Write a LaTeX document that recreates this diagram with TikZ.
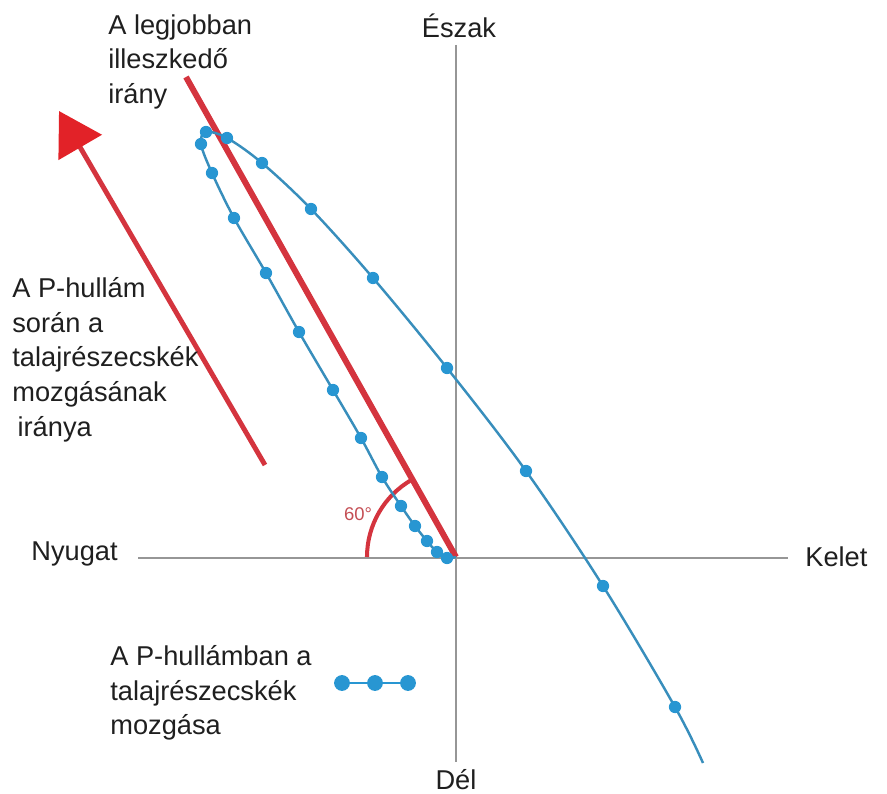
\documentclass[tikz,border=0pt]{standalone}
\usepackage{fontspec}
\setmainfont{Liberation Sans}
\usetikzlibrary{arrows.meta}
\definecolor{axisgray}{RGB}{150,150,150}
\definecolor{fitred}{RGB}{212,52,62}
\definecolor{headred}{RGB}{226,34,40}
\definecolor{pblue}{RGB}{56,142,188}
\definecolor{dotblue}{RGB}{40,150,210}
\definecolor{degred}{RGB}{196,78,84}

\begin{document}
\begin{tikzpicture}[x=0.02cm, y=-0.02cm,
  axis/.style={line width=1.2pt, axisgray},
  fitline/.style={line width=3.4pt, fitred},
  txt/.style={font=\fontsize{15.5}{19.8}\selectfont, text=black!88, inner sep=0pt, align=left},
  pdot/.style={circle, fill=dotblue, inner sep=0pt, minimum size=7pt},
  legdot/.style={circle, fill=dotblue, inner sep=0pt, minimum size=9pt}]
\useasboundingbox (0,0) rectangle (887,794);

% tengelyek
\coordinate (O) at (456,557);
\coordinate (north) at (456,45);
\coordinate (south) at (456,762);
\coordinate (west) at (138,558);
\coordinate (east) at (788,558);
\draw[axis] (north) -- (south);
\draw[axis] (west) -- (east);
\node[txt, anchor=base] (eszak) at (459,38) {Észak};
\node[txt, anchor=base] (del) at (456,789) {Dél};
\node[txt, anchor=east] (nyugat) at (118,554) {Nyugat};
\node[txt, anchor=west] (kelet) at (805,557) {Kelet};

% legjobban illeszkedő irány
\coordinate (fittop) at (186,77);
\draw[fitline] (O) -- (fittop);
\draw[line width=2.3pt, fitred] (O) ++(-89,0) arc[start angle=180, end angle=240, radius=89];
\node[font=\fontsize{10.5}{12}\selectfont, text=degred, inner sep=0pt] (deg) at (358,514) {60°};
\node[txt, anchor=north west] (fitlabel) at (108,14) {A legjobban\\illeszkedő\\irány};

% mozgás iránya
\coordinate (arrtail) at (265,465);
\coordinate (arrtip) at (59,111);
\draw[line width=2.8pt, fitred, -{Triangle[length=24pt, width=28pt, fill=headred, color=headred]}] (arrtail) -- (arrtip);
\node[txt, anchor=north west] (movelabel) at (12,277) {A P-hullám\\során a\\talajrészecskék\\mozgásának\\\hspace{3pt}iránya};

% részecskék pályája
\draw[line width=1.4pt, pblue] plot[smooth, tension=0.55] coordinates {(456,557) (447,558) (437,552) (427,541) (415,526) (401,506) (382,477) (361,438) (333,390) (299,332) (266,273) (234,218) (212,173) (201,144) (206,132) (227,138) (262,163) (311,209) (373,278) (447,368) (526,471) (603,586) (675,707) (703,763)};
\foreach \p in {(447,558),(437,552),(427,541),(415,526),(401,506),(382,477),(361,438),(333,390),(299,332),(266,273),(234,218),(212,173),(201,144),(206,132),(227,138),(262,163),(311,209),(373,278),(447,368),(526,471),(603,586),(675,707)}
  \node[pdot] at \p {};

% jelmagyarázat
\node[txt, anchor=north west] (legend) at (110,645) {A P-hullámban a\\talajrészecskék\\mozgása};
\node[legdot] (l1) at (342,683) {};
\node[legdot] (l2) at (375,683) {};
\node[legdot] (l3) at (408,683) {};
\draw[line width=1.6pt, dotblue] (l1) -- (l2) -- (l3);
\end{tikzpicture}
\end{document}
